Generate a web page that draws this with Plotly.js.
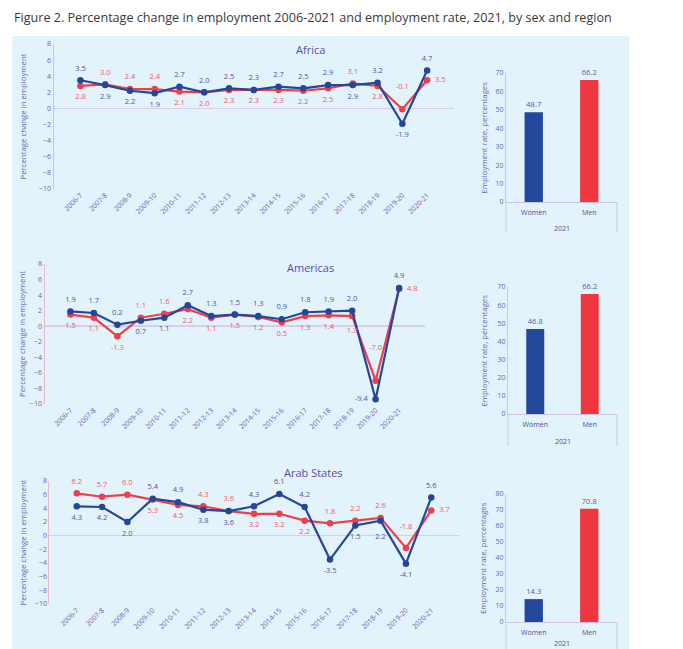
<!DOCTYPE html>
<html><head><meta charset="utf-8">
<script src="https://cdn.plot.ly/plotly-3.0.1.min.js"></script>
<style>body{margin:0;background:#fff}#chart{width:683px;height:649px}</style>
</head><body><div id="chart"></div><script>
// ---- data ----
const categories = ['2006-7','2007-8','2008-9','2009-10','2010-11','2011-12','2012-13','2013-14','2014-15','2015-16','2016-17','2017-18','2018-19','2019-20','2020-21'];
const regionNames = ['Africa','Americas','Arab States'];
const africaWomen   = [3.5,2.9,2.2,1.9,2.7,2.0,2.5,2.3,2.7,2.5,2.9,2.9,3.2,-1.9,4.7];
const africaMen     = [2.8,3.0,2.4,2.4,2.1,2.0,2.3,2.3,2.3,2.2,2.5,3.1,2.8,-0.1,3.5];
const americasWomen = [1.9,1.7,0.2,0.7,1.1,2.7,1.3,1.5,1.3,0.9,1.8,1.9,2.0,-9.4,4.9];
const americasMen   = [1.5,1.1,-1.3,1.1,1.6,2.2,1.1,1.5,1.2,0.5,1.3,1.4,1.3,-7.0,4.8];
const arabWomen     = [4.3,4.2,2.0,5.4,4.9,3.8,3.6,4.3,6.1,4.2,-3.5,1.5,2.2,-4.1,5.6];
const arabMen       = [6.2,5.7,6.0,5.3,4.5,4.3,3.6,3.2,3.2,2.2,1.8,2.2,2.6,-1.8,3.7];
const sexes = ['Women','Men'];
const rate2021Africa   = [48.7,66.2];
const rate2021Americas = [46.8,66.2];
const rate2021Arab     = [14.3,70.8];

// ---- geometry / style ----
const W=683,H=649;
const px=x=>x/W, py=y=>1-y/H;
const BLUE='#23479b', RED='#ef3f4a', BLUE_T='#4d55a6', RED_T='#f05a5e', AX='#6a63b6';
const FONT='Open Sans, Noto Sans, sans-serif';

const rows = [
  {women:africaWomen, men:africaMen, rate:rate2021Africa, line:{x:[53.5,454],y:[44,189]}, bar:{x:[506,617],y:[73,202],max:70}, title:[310,49], yr:228, divEnd:232, tieRedTop:false, wPosOv:{}, mGapOv:{13:28}, wGapOv:{}},
  {women:americasWomen, men:americasMen, rate:rate2021Americas, line:{x:[44.5,425],y:[264,404]}, bar:{x:[508,617],y:[287,414],max:70}, title:[310,267], yr:441, divEnd:446, tieRedTop:false, wPosOv:{13:'middle left'}, mGapOv:{13:44,12:16}, wGapOv:{}},
  {women:arabWomen, men:arabMen, rate:rate2021Arab, line:{x:[49.4,458.6],y:[481,604]}, bar:{x:[506,617],y:[494,622],max:80}, title:[313,472], yr:643, divEnd:649, tieRedTop:true, wPosOv:{}, mGapOv:{13:26}, wGapOv:{12:18}}
];

const data=[], textTraces=[], layout={
  width:W,height:H,margin:{l:0,r:0,t:0,b:0},
  paper_bgcolor:'#ffffff',plot_bgcolor:'rgba(0,0,0,0)',
  showlegend:false,font:{family:FONT,color:AX},
  shapes:[{type:'rect',xref:'paper',yref:'paper',x0:px(12),x1:px(629),y0:0,y1:py(36),fillcolor:'#e2f3fb',line:{width:0},layer:'below'}],
  annotations:[{xref:'paper',yref:'paper',x:px(12),y:py(18),xanchor:'left',yanchor:'middle',showarrow:false,
    text:'Figure 2. Percentage change in employment 2006-2021 and employment rate, 2021, by sex and region',
    font:{family:FONT,size:12.6,color:'#3a3a3a'}}]
};
const sfx=n=> n===1?'':n;

rows.forEach((r,i)=>{
  const lx=2*i+1, bx=2*i+2;
  const xa='x'+sfx(lx), ya='y'+sfx(lx);
  const xb='x'+bx, yb='y'+bx;
  const n=r.women.length;
  const wPos=[], mPos=[];
  for(let k=0;k<n;k++){
    let wTop = r.women[k]>r.men[k] || (r.women[k]===r.men[k] && !r.tieRedTop);
    wPos.push(wTop?'top center':'bottom center');
    mPos.push(wTop?'bottom center':'top center');
  }
  wPos[n-1]='top center'; mPos[n-1]='middle right';
  Object.keys(r.wPosOv).forEach(k=>{wPos[k]=r.wPosOv[k];});
  const gaps=ov=>{const g=new Array(n).fill(11); Object.keys(ov).forEach(k=>{g[k]=ov[k];}); return g;};
  [[r.men,RED,RED_T,mPos,gaps(r.mGapOv)],[r.women,BLUE,BLUE_T,wPos,gaps(r.wGapOv)]].forEach(([vals,c,tc,pos,g])=>{
    data.push({type:'scatter',mode:'lines+markers',x:categories,y:vals,xaxis:xa,yaxis:ya,
      line:{color:c,width:2.2},marker:{color:c,size:6.5,line:{width:0}},cliponaxis:false});
    textTraces.push({type:'scatter',mode:'markers+text',x:categories,y:vals,xaxis:xa,yaxis:ya,
      marker:{color:'rgba(0,0,0,0)',size:g,line:{width:0,color:'rgba(0,0,0,0)'}},text:vals.map(v=>v.toFixed(1)),textposition:pos,
      textfont:{size:7.5,color:tc},cliponaxis:false});
  });
  data.push({type:'bar',x:sexes,y:r.rate,xaxis:xb,yaxis:yb,width:0.33,
    marker:{color:[BLUE,'#f0363e']},text:r.rate.map(v=>v.toFixed(1)),textposition:'outside',
    textfont:{size:7.5,color:'#5a58a4'},cliponaxis:false});

  layout['xaxis'+sfx(lx)]={domain:[px(r.line.x[0]),px(r.line.x[1])],anchor:ya,type:'category',
    tickangle:-45,tickfont:{size:7,color:AX},showgrid:false,showline:false,zeroline:false,ticks:'',fixedrange:true};
  layout['yaxis'+sfx(lx)]={domain:[py(r.line.y[1]),py(r.line.y[0])],anchor:xa,range:[-10,8],dtick:2,
    tickfont:{size:7,color:AX},showgrid:false,showline:true,linecolor:'#eab9c8',linewidth:1,
    zeroline:true,zerolinecolor:'#d9cbe9',zerolinewidth:1.5,ticks:'',fixedrange:true};
  layout['xaxis'+bx]={domain:[px(r.bar.x[0]),px(r.bar.x[1])],anchor:yb,type:'category',ticklabelstandoff:4,
    tickfont:{size:7,color:'#4f4ea2'},showgrid:false,showline:true,linecolor:'#cdc5e3',ticks:'',fixedrange:true};
  layout['yaxis'+bx]={domain:[py(r.bar.y[1]),py(r.bar.y[0])],anchor:xb,range:[0,r.bar.max],dtick:10,
    tickfont:{size:7,color:AX},showgrid:false,showline:true,linecolor:'#cdc5e3',zeroline:false,ticks:'',fixedrange:true};

  [r.bar.x[0],r.bar.x[1]].forEach(xx=>layout.shapes.push({type:'line',xref:'paper',yref:'paper',
    x0:px(xx),x1:px(xx),y0:py(r.bar.y[1]),y1:py(r.divEnd),line:{color:'#cdc5e3',width:1}}));

  layout.annotations.push({xref:'paper',yref:'paper',x:px(r.title[0]),y:py(r.title[1]),showarrow:false,
    xanchor:'center',yanchor:'middle',text:regionNames[i],font:{size:11,color:'#5b4fa3'}});
  layout.annotations.push({xref:'paper',yref:'paper',x:px(22),y:py((r.line.y[0]+r.line.y[1])/2),showarrow:false,
    textangle:-90,xanchor:'center',yanchor:'middle',text:'Percentage change in employment',font:{size:7.8,color:AX}});
  layout.annotations.push({xref:'paper',yref:'paper',x:px(483),y:py((r.bar.y[0]+r.bar.y[1])/2),showarrow:false,
    textangle:-90,xanchor:'center',yanchor:'middle',text:'Employment rate, percentages',font:{size:7.8,color:AX}});
  layout.annotations.push({xref:'paper',yref:'paper',x:px((r.bar.x[0]+r.bar.x[1])/2),y:py(r.yr),showarrow:false,
    xanchor:'center',yanchor:'middle',text:'2021',font:{size:7,color:'#4f4ea2'}});
});

Plotly.newPlot('chart',data.concat(textTraces),layout,{displayModeBar:false,staticPlot:true});
</script></body></html>
